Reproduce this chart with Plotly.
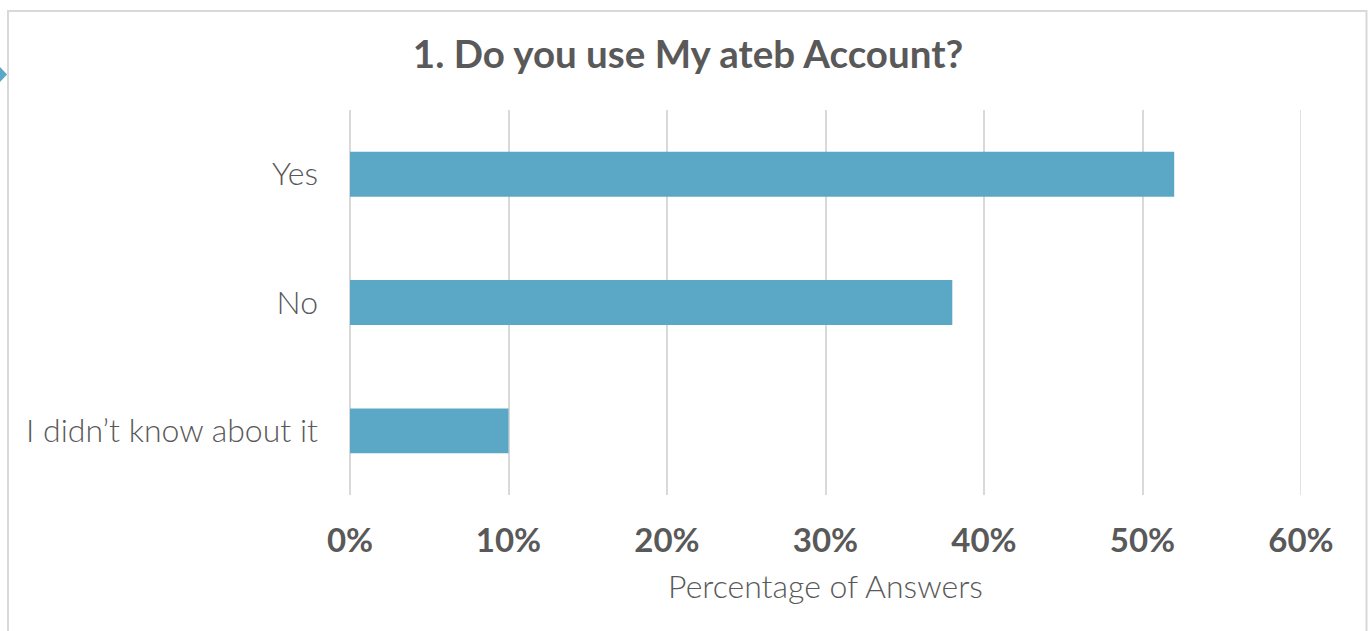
import plotly.graph_objects as go

categories = ["Yes", "No", "I didn’t know about it"]
values = [0.52, 0.38, 0.10]
tick_vals = [0, 0.1, 0.2, 0.3, 0.4, 0.5, 0.6]
tick_text = ["0%", "10%", "20%", "30%", "40%", "50%", "60%"]

W, H = 1368, 631
L, R, T, B = 350, 1301, 110, 495

def px_x(p):
    return (p - L) / (R - L)

def px_y(p):
    return (B - p) / (B - T)

GRID = "#D9D9D9"
TXT = "#595959"
BAR = "#5BA7C6"

fig = go.Figure(go.Bar(
    x=values, y=categories, orientation="h",
    marker=dict(color=BAR, line=dict(width=0)),
    width=0.35,
))

fig.update_layout(
    width=W, height=H,
    margin=dict(l=L, r=W - R, t=T, b=H - B),
    paper_bgcolor="white", plot_bgcolor="white",
    showlegend=False,
    title=dict(text="<b>1. Do you use My ateb Account?</b>", x=688 / W, xref="container",
               y=1 - 55 / H, yref="container", xanchor="center", yanchor="middle",
               font=dict(family="Lato", size=38.5, color=TXT)),
    xaxis=dict(range=[tick_vals[0], tick_vals[-1]], tickvals=tick_vals, ticktext=tick_text,
               showgrid=True, gridcolor=GRID, gridwidth=1.5,
               zeroline=True, zerolinecolor=GRID, zerolinewidth=1.5, showline=False,
               tickfont=dict(family="Lato", size=33, color=TXT, weight="bold"),
               ticklabelstandoff=23,
               title=dict(text="Percentage of Answers", standoff=17,
                          font=dict(family="Lato", size=32, color=TXT, weight=300))),
    yaxis=dict(range=[2.5, -0.5], autorange=False, showgrid=False, zeroline=False,
               showline=False, ticklabelstandoff=31,
               tickfont=dict(family="Lato", size=32, color=TXT, weight=300)),
    shapes=[
        dict(type="line", xref="x", yref="paper", x0=tick_vals[-1], x1=tick_vals[-1],
             y0=0, y1=1, line=dict(color=GRID, width=1.5), layer="below"),
        dict(type="rect", xref="paper", yref="paper",
             x0=px_x(8), x1=px_x(1366.5), y0=px_y(640), y1=px_y(11),
             line=dict(color=GRID, width=2), fillcolor="rgba(0,0,0,0)", layer="below"),
        dict(type="path", xref="paper", yref="paper",
             path=f"M {px_x(-1)} {px_y(66)} L {px_x(7)} {px_y(74.5)} L {px_x(-1)} {px_y(83)} Z",
             line=dict(width=0), fillcolor=BAR),
    ],
)

fig.write_html("out.html", config={"displayModeBar": False},
               post_script="document.body.style.margin='0';")
